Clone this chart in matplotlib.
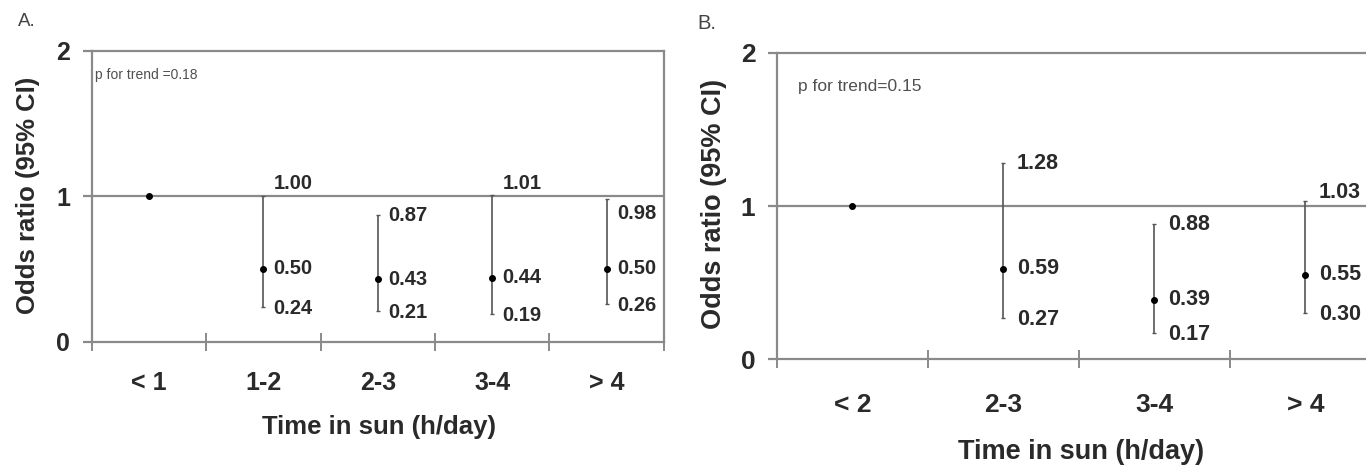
import matplotlib.pyplot as plt
import numpy as np

plt.rcParams['font.family'] = ['Liberation Sans', 'DejaVu Sans']

# panel A: time in sun, 5 groups
cats_a = ['< 1', '1-2', '2-3', '3-4', '> 4']
or_a = [1.00, 0.50, 0.43, 0.44, 0.50]
lo_a = [np.nan, 0.24, 0.21, 0.19, 0.26]
hi_a = [np.nan, 1.00, 0.87, 1.01, 0.98]
trend_a = 'p for trend =0.18'

# panel B: time in sun, 4 groups
cats_b = ['< 2', '2-3', '3-4', '> 4']
or_b = [1.00, 0.59, 0.39, 0.55]
lo_b = [np.nan, 0.27, 0.17, 0.30]
hi_b = [np.nan, 1.28, 0.88, 1.03]
trend_b = 'p for trend=0.15'

GRAY = '#8a8a8a'
INK = '#2a2a2a'


def draw_panel(ax, cats, ors, lo, hi, trend, fs, trend_pos, trend_fs):
    n = len(cats)
    x = np.arange(n)
    ors = np.array(ors)
    lo = np.array(lo)
    hi = np.array(hi)

    ax.axhline(1, color=GRAY, lw=1.6, zorder=1)

    has_ci = ~np.isnan(lo)
    ax.errorbar(x[has_ci], ors[has_ci],
                yerr=[ors[has_ci] - lo[has_ci], hi[has_ci] - ors[has_ci]],
                fmt='none', ecolor='#555555', elinewidth=1.2, capsize=1.6,
                capthick=1, zorder=2)
    ax.plot(x, ors, 'o', color='black', ms=4, zorder=3)

    # value labels next to each interval
    dx = 0.09
    for i in x[has_ci]:
        ax.text(i + dx, ors[i], '%.2f' % ors[i], va='center', ha='left',
                fontsize=fs, fontweight='bold', color=INK)
        ylo = lo[i] - 0.01
        ax.text(i + dx, ylo, '%.2f' % lo[i], va='center', ha='left',
                fontsize=fs, fontweight='bold', color=INK)
        yhi = hi[i]
        if abs(hi[i] - 1) < 0.05:
            yhi = 1.09 if hi[i] >= 1 else 0.88
        ax.text(i + dx, yhi, '%.2f' % hi[i], va='center', ha='left',
                fontsize=fs, fontweight='bold', color=INK)

    ax.set_xlim(-0.5, n - 0.5)
    ax.set_ylim(0, 2)
    ax.set_xticks(x)
    ax.set_xticklabels(cats)
    ax.set_xticks(np.arange(n + 1) - 0.5, minor=True)
    ax.set_yticks([0, 1, 2])
    ax.set_yticks([], minor=True)

    for s in ax.spines.values():
        s.set_color(GRAY)
        s.set_linewidth(1.6)

    ax.tick_params(axis='x', which='major', length=0)
    ax.tick_params(axis='x', which='minor', direction='inout', length=13,
                   width=1.4, color=GRAY)
    ax.tick_params(axis='y', which='major', direction='out', length=6.5,
                   width=1.6, color=GRAY, pad=9)

    ax.text(trend_pos[0], trend_pos[1], trend, transform=ax.transAxes,
            fontsize=trend_fs, color='#505050', va='center', ha='left')


fig = plt.figure(figsize=(13.66, 4.68), dpi=100)

ax_a = fig.add_axes([0.0671, 0.2699, 0.4189, 0.6218])
draw_panel(ax_a, cats_a, or_a, lo_a, hi_a, trend_a, 14.5, (0.005, 0.915), 10)
ax_a.tick_params(axis='x', which='major', pad=21, labelsize=18)
ax_a.tick_params(axis='y', labelsize=18)
for lab in ax_a.get_xticklabels() + ax_a.get_yticklabels():
    lab.set_fontweight('bold')
    lab.set_color(INK)
ax_a.set_xlabel('Time in sun (h/day)', fontsize=18.5, fontweight='bold', color=INK)
ax_a.set_ylabel('Odds ratio (95% CI)', fontsize=18.5, fontweight='bold', color=INK)
ax_a.xaxis.label.set_va('center')
ax_a.yaxis.label.set_va('center')
ax_a.xaxis.set_label_coords(0.502, -0.293)
ax_a.yaxis.set_label_coords(-0.111, 0.504)

ax_b = fig.add_axes([0.5688, 0.2323, 0.442, 0.655])
draw_panel(ax_b, cats_b, or_b, lo_b, hi_b, trend_b, 15.5, (0.035, 0.891), 12.5)
ax_b.tick_params(axis='x', which='major', pad=24, labelsize=19)
ax_b.tick_params(axis='y', labelsize=19)
for lab in ax_b.get_xticklabels() + ax_b.get_yticklabels():
    lab.set_fontweight('bold')
    lab.set_color(INK)
ax_b.set_xlabel('Time in sun (h/day)', fontsize=19.5, fontweight='bold', color=INK)
ax_b.set_ylabel('Odds ratio (95% CI)', fontsize=19.5, fontweight='bold', color=INK)
ax_b.xaxis.label.set_va('center')
ax_b.yaxis.label.set_va('center')
ax_b.xaxis.set_label_coords(0.503, -0.302)
ax_b.yaxis.set_label_coords(-0.104, 0.507)

fig.text(18 / 1366, 1 - 22 / 468, 'A.', fontsize=13.5, color='#444444', va='center')
fig.text(697 / 1366, 1 - 23.5 / 468, 'B.', fontsize=14.5, color='#444444', va='center')

fig.savefig('out.png', dpi=100)
